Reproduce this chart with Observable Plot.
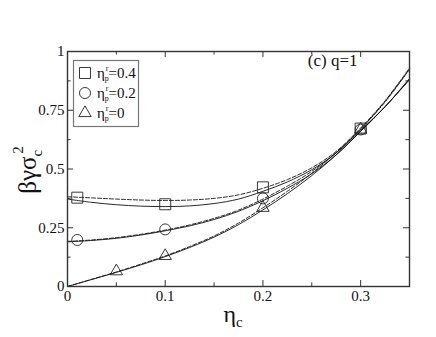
<!DOCTYPE html>
<html><head><meta charset="utf-8">
<script src="https://cdn.jsdelivr.net/npm/d3@7"></script>
<script src="https://cdn.jsdelivr.net/npm/@observablehq/plot@0.6"></script>
<style>
body{margin:0;background:#fff;}
#chart{position:relative;width:436px;height:337px;}
#chart svg text, #chart svg tspan{font-family:'Liberation Serif','Times New Roman',serif !important;}
</style>
</head><body><div id="chart"></div>
<script>
// curve sample abscissae (eta_c)
const curveX = [0, 0.025, 0.05, 0.075, 0.1, 0.125, 0.15, 0.175, 0.2, 0.225, 0.25, 0.275, 0.3, 0.325, 0.35];
// eta_p^r = 0.4
const sqDashed = [0.382, 0.377, 0.372, 0.368, 0.366, 0.368, 0.375, 0.39, 0.418, 0.455, 0.505, 0.575, 0.675, 0.79, 0.93];
const sqSolid  = [0.372, 0.358, 0.348, 0.342, 0.340, 0.343, 0.353, 0.372, 0.405, 0.445, 0.497, 0.568, 0.665, 0.765, 0.885];
// eta_p^r = 0.2
const ciDashed = [0.192, 0.198, 0.208, 0.222, 0.240, 0.262, 0.290, 0.325, 0.372, 0.427, 0.49, 0.570, 0.670, 0.785, 0.925];
const ciSolid  = [0.190, 0.196, 0.205, 0.219, 0.237, 0.258, 0.285, 0.320, 0.365, 0.418, 0.48, 0.560, 0.660, 0.765, 0.882];
// eta_p^r = 0
const trDashed = [0.0, 0.031, 0.062, 0.095, 0.130, 0.170, 0.215, 0.270, 0.335, 0.405, 0.482, 0.570, 0.670, 0.788, 0.925];
const trSolid  = [0.0, 0.030, 0.060, 0.092, 0.127, 0.166, 0.210, 0.263, 0.326, 0.395, 0.472, 0.560, 0.660, 0.765, 0.880];
// markers
const squareX = [0.01, 0.1, 0.2, 0.3];
const squareY = [0.378, 0.350, 0.422, 0.672];
const circleX = [0.01, 0.1, 0.2, 0.3];
const circleY = [0.198, 0.243, 0.375, 0.668];
const triangleX = [0.05, 0.1, 0.2, 0.3];
const triangleY = [0.065, 0.130, 0.335, 0.668];
// ticks
const xMajor = [0, 0.1, 0.2, 0.3];
const xMinor = [0.05, 0.15, 0.25];
const xLabels = ["0", "0.1", "0.2", "0.3"];
const yMajor = [0, 0.25, 0.5, 0.75, 1];
const yMinor = [0.125, 0.375, 0.625, 0.875];
const yLabels = ["0", "0.25", "0.5", "0.75", "1"];
const legendValues = ["0.4", "0.2", "0"];
const legendSymbols = ["square", "circle", "triangle"];

const pts = (ys) => curveX.map((x, i) => ({x, y: ys[i]}));
const mk = (xs, ys) => xs.map((x, i) => ({x, y: ys[i]}));
const serif = "'Liberation Serif', 'Times New Roman', serif";
const X0 = 0, X1 = 0.35, Y0 = 0, Y1 = 1;
const tickLenX = 0.35 * 6 / 342, tickLenY = 6 / 236;

const lineOpts = {x: "x", y: "y", stroke: "#111", strokeWidth: 0.9, curve: "catmull-rom"};
const dashOpts = {...lineOpts, strokeDasharray: "4,2"};

const plot = Plot.plot({
  width: 436, height: 337,
  marginLeft: 67, marginRight: 27, marginTop: 51, marginBottom: 51,
  x: {domain: [X0, X1]},
  y: {domain: [Y0, Y1]},
  style: {fontFamily: serif, background: "#fff"},
  marks: [
    Plot.line(pts(sqDashed), dashOpts),
    Plot.line(pts(sqSolid), lineOpts),
    Plot.line(pts(ciDashed), dashOpts),
    Plot.line(pts(ciSolid), lineOpts),
    Plot.line(pts(trDashed), dashOpts),
    Plot.line(pts(trSolid), lineOpts),
    Plot.dot(mk(squareX, squareY), {x: "x", y: "y", symbol: "square", r: 6.2, stroke: "#222", strokeWidth: 0.9, fill: "none"}),
    Plot.dot(mk(circleX, circleY), {x: "x", y: "y", symbol: "circle", r: 5.5, stroke: "#222", strokeWidth: 0.9, fill: "none"}),
    Plot.dot(mk(triangleX, triangleY), {x: "x", y: "y", symbol: "triangle", r: 4.6, stroke: "#222", strokeWidth: 0.9, fill: "none"}),
    // inward ticks: bottom & top
    Plot.ruleX(xMajor.slice(1), {x: d => d, y1: Y0, y2: Y0 + tickLenY, stroke: "#333"}),
    Plot.ruleX(xMinor, {x: d => d, y1: Y0, y2: Y0 + tickLenY * 0.6, stroke: "#333"}),
    Plot.ruleX(xMajor.slice(1), {x: d => d, y1: Y1, y2: Y1 - tickLenY, stroke: "#333"}),
    Plot.ruleX(xMinor, {x: d => d, y1: Y1, y2: Y1 - tickLenY * 0.6, stroke: "#333"}),
    // inward ticks: left & right
    Plot.ruleY(yMajor.slice(1, 4), {y: d => d, x1: X0, x2: X0 + tickLenX, stroke: "#333"}),
    Plot.ruleY(yMinor, {y: d => d, x1: X0, x2: X0 + tickLenX * 0.6, stroke: "#333"}),
    Plot.ruleY(yMajor.slice(1, 4), {y: d => d, x1: X1, x2: X1 - tickLenX, stroke: "#333"}),
    Plot.ruleY(yMinor, {y: d => d, x1: X1, x2: X1 - tickLenX * 0.6, stroke: "#333"}),
    Plot.frame({stroke: "#333", strokeWidth: 1.4}),
    Plot.axisX(xMajor, {tickSize: 0, tickPadding: 4, tickFormat: (d, i) => xLabels[i], fontSize: 15, label: null, fill: "#111"}),
    Plot.axisY(yMajor, {tickSize: 0, tickPadding: 3, tickFormat: (d, i) => yLabels[i], fontSize: 15, label: null, fill: "#111"}),
    Plot.text(["(c) q=1"], {frameAnchor: "top-right", dx: -52, dy: 2, fontSize: 17, textAnchor: "end", fill: "#111"})
  ]
});

const svg = d3.select(plot);
// y-axis label
const yl = svg.append("text")
  .attr("transform", "translate(36,170) rotate(-90)")
  .attr("text-anchor", "middle")
  .attr("font-family", serif).attr("font-size", 25).attr("fill", "#111");
yl.append("tspan").text("βγσ");
yl.append("tspan").attr("font-size", 15).attr("dy", 6).text("c");
yl.append("tspan").attr("font-size", 15).attr("dx", -4).attr("dy", -19).text("2");
// x-axis label
const xl = svg.append("text")
  .attr("x", 233).attr("y", 322).attr("text-anchor", "middle")
  .attr("font-family", serif).attr("font-size", 24).attr("fill", "#111");
xl.append("tspan").text("η");
xl.append("tspan").attr("font-size", 15).attr("dy", 5).text("c");

// legend box
const lg = svg.append("g").attr("text-anchor", "start");
lg.append("rect").attr("x", 73.5).attr("y", 60.5).attr("width", 65).attr("height", 66)
  .attr("fill", "#fff").attr("stroke", "#777").attr("stroke-width", 1.2);
const symMap = {square: d3.symbolSquare, circle: d3.symbolCircle, triangle: d3.symbolTriangle};
const symSize = {square: Math.PI * 6.2 * 6.2, circle: Math.PI * 5.5 * 5.5, triangle: Math.PI * 4.6 * 4.6};
legendValues.forEach((v, i) => {
  const cy = 73 + i * 20;
  lg.append("path").attr("transform", `translate(85,${cy})`)
    .attr("d", d3.symbol(symMap[legendSymbols[i]], symSize[legendSymbols[i]])())
    .attr("fill", "none").attr("stroke", "#222").attr("stroke-width", 0.9);
  const t = lg.append("text").attr("x", 97).attr("y", cy + 5).attr("text-anchor", "start")
    .attr("font-family", serif).attr("font-size", 15).attr("fill", "#111");
  t.append("tspan").text("η");
  t.append("tspan").attr("font-size", 8).attr("dy", 3).text("p");
  t.append("tspan").attr("font-size", 8).attr("dx", -3).attr("dy", -10).text("r");
  t.append("tspan").attr("dy", 7).text("=" + v);
});

document.getElementById("chart").append(plot);
</script>
</body></html>
